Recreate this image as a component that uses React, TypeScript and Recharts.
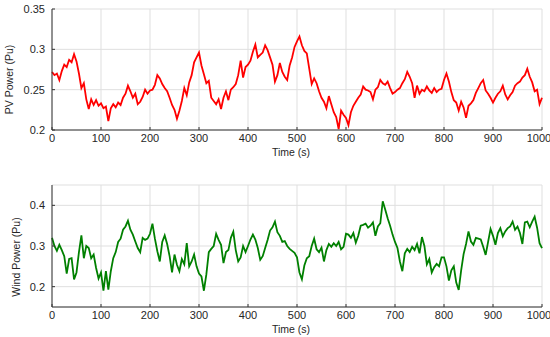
import { LineChart, Line, XAxis, YAxis, CartesianGrid } from "recharts"

// sample spacing of both records, seconds
const timeStep = 5

const timeTicks = [0, 100, 200, 300, 400, 500, 600, 700, 800, 900, 1000]

// PV power (pu), every 5 s from 0 to 1000 s
const pvPower = [
  0.272, 0.268, 0.27, 0.262, 0.273, 0.281, 0.278, 0.287, 0.284, 0.294,
  0.285, 0.27, 0.252, 0.258, 0.238, 0.226, 0.238, 0.231, 0.237, 0.23,
  0.233, 0.227, 0.229, 0.211, 0.227, 0.232, 0.228, 0.234, 0.231, 0.24,
  0.245, 0.255, 0.248, 0.24, 0.245, 0.232, 0.235, 0.241, 0.25, 0.245,
  0.249, 0.25, 0.256, 0.268, 0.264, 0.257, 0.252, 0.248, 0.24, 0.231,
  0.225, 0.214, 0.224, 0.236, 0.252, 0.243, 0.259, 0.268, 0.284, 0.29,
  0.296, 0.28, 0.269, 0.258, 0.261, 0.24, 0.236, 0.232, 0.238, 0.226,
  0.24, 0.248, 0.237, 0.25, 0.253, 0.257, 0.268, 0.286, 0.265, 0.278,
  0.281, 0.286, 0.297, 0.306, 0.29, 0.293, 0.296, 0.305, 0.299, 0.29,
  0.281, 0.26, 0.268, 0.283, 0.272, 0.266, 0.262, 0.28, 0.29, 0.303,
  0.31, 0.316, 0.305, 0.298, 0.295, 0.276, 0.257, 0.264, 0.258, 0.248,
  0.24, 0.235, 0.227, 0.242, 0.232, 0.222, 0.216, 0.201, 0.224, 0.219,
  0.215, 0.206, 0.222, 0.23, 0.235, 0.24, 0.244, 0.254, 0.25, 0.249,
  0.247, 0.238, 0.25, 0.253, 0.262, 0.258, 0.256, 0.26, 0.252, 0.245,
  0.247, 0.25, 0.252, 0.258, 0.263, 0.272, 0.266, 0.258, 0.24, 0.255,
  0.245, 0.25, 0.248, 0.254, 0.249, 0.246, 0.252, 0.247, 0.25, 0.251,
  0.262, 0.27, 0.26, 0.247, 0.237, 0.234, 0.224, 0.235, 0.228, 0.215,
  0.23, 0.233, 0.237, 0.246, 0.252, 0.258, 0.262, 0.249, 0.245, 0.24,
  0.234, 0.24, 0.245, 0.248, 0.255, 0.244, 0.238, 0.243, 0.247, 0.255,
  0.258, 0.26, 0.265, 0.268, 0.276, 0.266, 0.259, 0.248, 0.25, 0.232,
  0.24,
]

// wind power (pu), every 5 s from 0 to 1000 s
const windPower = [
  0.32, 0.3, 0.288, 0.303, 0.29, 0.275, 0.232, 0.268, 0.27, 0.218,
  0.235, 0.285, 0.326, 0.27, 0.3, 0.295, 0.27, 0.279, 0.246, 0.22,
  0.235, 0.19, 0.238, 0.193, 0.238, 0.27, 0.285, 0.31, 0.318, 0.34,
  0.348, 0.362, 0.34, 0.328, 0.311, 0.295, 0.285, 0.32, 0.315, 0.318,
  0.33, 0.355, 0.318, 0.287, 0.262, 0.31, 0.326, 0.305, 0.275, 0.235,
  0.279, 0.254, 0.238, 0.268, 0.255, 0.307, 0.25, 0.262, 0.279, 0.25,
  0.232, 0.225, 0.19, 0.23, 0.285, 0.293, 0.3, 0.33, 0.315, 0.303,
  0.258, 0.285, 0.29, 0.32, 0.335, 0.29, 0.262, 0.272, 0.3, 0.285,
  0.3, 0.316, 0.328, 0.316, 0.295, 0.266, 0.275, 0.295, 0.315, 0.338,
  0.346, 0.36, 0.334, 0.325, 0.31, 0.312, 0.3, 0.293, 0.288, 0.283,
  0.272, 0.235, 0.218, 0.252, 0.27, 0.275, 0.3, 0.318, 0.292, 0.285,
  0.296, 0.262, 0.29, 0.305, 0.298, 0.307, 0.3, 0.31, 0.292, 0.298,
  0.33, 0.328, 0.32, 0.332, 0.308, 0.325, 0.35, 0.352, 0.355, 0.345,
  0.35, 0.358, 0.325, 0.348, 0.356, 0.41, 0.39, 0.368, 0.35, 0.328,
  0.31, 0.295, 0.262, 0.238, 0.282, 0.293, 0.285, 0.298, 0.29, 0.305,
  0.282, 0.322, 0.3, 0.255, 0.268, 0.235, 0.248, 0.256, 0.25, 0.272,
  0.272, 0.25, 0.215, 0.24, 0.25, 0.21, 0.192, 0.24, 0.28, 0.305,
  0.336, 0.311, 0.303, 0.32, 0.318, 0.316, 0.298, 0.278, 0.31, 0.342,
  0.325, 0.303, 0.332, 0.344, 0.324, 0.336, 0.344, 0.348, 0.36, 0.34,
  0.348, 0.332, 0.305, 0.358, 0.36, 0.346, 0.36, 0.372, 0.345, 0.307,
  0.295,
]

const pvTicks = [0.2, 0.25, 0.3, 0.35]
const windTicks = [0.2, 0.3, 0.4]

const AXIS = "#333333"
const GRID = "#dfdfdf"
const FONT = "'Liberation Sans', Arial, Helvetica, sans-serif"

type PanelProps = {
  values: number[]
  color: string
  yDomain: [number, number]
  yTicks: number[]
  yLabel: string
  height: number
  top: number
  bottom: number
  labelX: number
  labelDy: number
  timeOffset: number
}

function Panel({ values, color, yDomain, yTicks, yLabel, height, top, bottom, labelX, labelDy, timeOffset }: PanelProps) {
  const data = values.map((v, i) => ({ t: i * timeStep, v }))

  return (
    <LineChart width={550} height={height} data={data} margin={{ top, right: 8, bottom, left: 0 }}>
      <CartesianGrid xAxisId="b" yAxisId="l" stroke={GRID} strokeWidth={1} />
      <XAxis
        xAxisId="b"
        type="number"
        dataKey="t"
        domain={[0, 1000]}
        ticks={timeTicks}
        height={30}
        tickSize={-3}
        tickMargin={7}
        stroke={AXIS}
        tick={{ fill: "#262626", fontSize: 11, fontFamily: FONT }}
        label={{ value: "Time (s)", position: "insideBottom", offset: timeOffset, dx: -6, fill: "#262626", fontSize: 10.5, fontFamily: FONT }}
      />
      <XAxis xAxisId="t" orientation="top" type="number" dataKey="t" domain={[0, 1000]} ticks={timeTicks} height={0} tickSize={-3} tick={false} stroke={AXIS} />
      <YAxis
        yAxisId="l"
        type="number"
        domain={yDomain}
        ticks={yTicks}
        width={52}
        tickSize={-3}
        tickMargin={10}
        stroke={AXIS}
        tick={{ fill: "#262626", fontSize: 11, fontFamily: FONT }}
        tickFormatter={(v: number) => String(v)}
        label={{
          content: (p: any) => {
            const vb = p.viewBox || { y: 0, height: 0 }
            const cy = vb.y + vb.height / 2 + labelDy
            return (
              <text
                x={labelX}
                y={cy}
                transform={`rotate(-90 ${labelX} ${cy})`}
                textAnchor="middle"
                dominantBaseline="central"
                fill="#262626"
                fontSize={10.5}
                fontFamily={FONT}
              >
                {yLabel}
              </text>
            )
          },
        }}
      />
      <YAxis yAxisId="r" orientation="right" type="number" domain={yDomain} ticks={yTicks} width={0} tickSize={-3} tick={false} stroke={AXIS} />
      <Line
        xAxisId="b"
        yAxisId="l"
        type="linear"
        dataKey="v"
        stroke={color}
        strokeWidth={1.8}
        dot={false}
        activeDot={false}
        isAnimationActive={false}
      />
    </LineChart>
  )
}

export default function App() {
  return (
    <div style={{ position: "absolute", left: 0, top: 0, width: 550, height: 337, background: "#fff" }}>
      <Panel
        values={pvPower}
        color="#ff0000"
        yDomain={[0.2, 0.35]}
        yTicks={pvTicks}
        yLabel="PV Power (Pu)"
        height={170}
        top={9}
        bottom={10}
        labelX={9}
        labelDy={10}
        timeOffset={4}
      />
      <Panel
        values={windPower}
        color="#008000"
        yDomain={[0.15, 0.45]}
        yTicks={windTicks}
        yLabel="Wind Power (Pu)"
        height={167}
        top={15}
        bottom={0}
        labelX={16}
        labelDy={11}
        timeOffset={4}
      />
    </div>
  )
}
